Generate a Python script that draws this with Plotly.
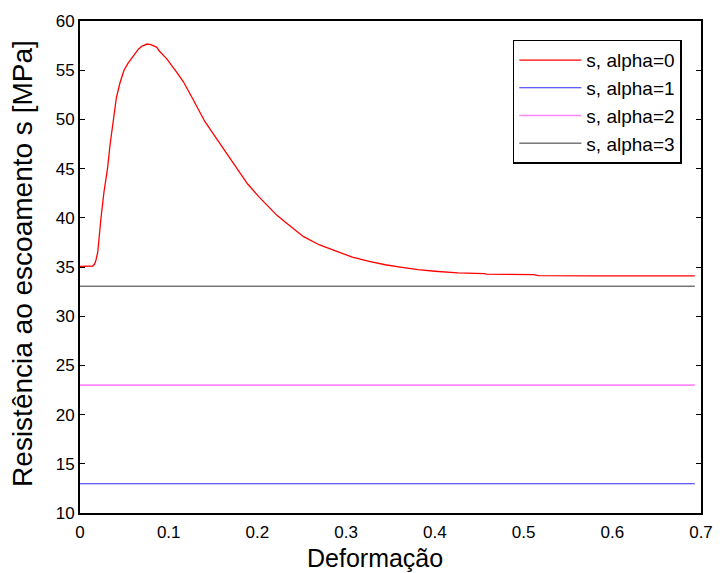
import plotly.graph_objects as go

# Red curve: s, alpha=0
strain = [0, 0.005, 0.010, 0.0144, 0.0165, 0.018, 0.020, 0.022, 0.0237, 0.027, 0.031,
          0.034, 0.0374, 0.041, 0.045, 0.0496, 0.054, 0.058, 0.062, 0.066, 0.070,
          0.0756, 0.080, 0.0867, 0.0889, 0.0978, 0.1089, 0.1167, 0.1278, 0.1407, 0.152,
          0.165, 0.178, 0.189, 0.202, 0.222, 0.233, 0.241, 0.252, 0.270, 0.289,
          0.307, 0.326, 0.344, 0.363, 0.381, 0.400, 0.419, 0.426, 0.456, 0.458,
          0.511, 0.517, 0.578, 0.693]
s_alpha0 = [35.07, 35.07, 35.08, 35.1, 35.3, 35.7, 36.5, 38.7, 40.0, 42.6, 45.0,
            47.5, 50.0, 52.2, 53.7, 55.0, 55.7, 56.2, 56.75, 57.16, 57.45,
            57.66, 57.6, 57.32, 57.0, 56.15, 54.8, 53.8, 51.97, 49.79, 48.3,
            46.6, 44.77, 43.43, 42.1, 40.25, 39.45, 38.9, 38.08, 37.24, 36.58,
            36.0, 35.57, 35.23, 34.97, 34.73, 34.57, 34.47, 34.4, 34.33, 34.27,
            34.22, 34.12, 34.1, 34.1]

# Constant series
strain_flat = [0, 0.693]
s_alpha1 = [12.97, 12.97]
s_alpha2 = [23.0, 23.0]
s_alpha3 = [33.05, 33.05]

names = ["s, alpha=0", "s, alpha=1", "s, alpha=2", "s, alpha=3"]
colors = ["#ff0000", "#2a2aff", "#ff88ff", "#333333"]
widths = [1.3, 1.1, 1.6, 1.0]

x_ticks = [0, 0.1, 0.2, 0.3, 0.4, 0.5, 0.6, 0.7]
x_labels = ["0", "0.1", "0.2", "0.3", "0.4", "0.5", "0.6", "0.7"]
y_ticks = [10, 15, 20, 25, 30, 35, 40, 45, 50, 55, 60]

FONT = "Liberation Sans, Arial, Helvetica, sans-serif"

fig = go.Figure()
series = [(strain, s_alpha0), (strain_flat, s_alpha1), (strain_flat, s_alpha2), (strain_flat, s_alpha3)]
for i, (xs, ys) in enumerate(series):
    fig.add_trace(go.Scatter(x=xs, y=ys, mode="lines", name=names[i],
                             line=dict(color=colors[i], width=widths[i]),
                             legendgroup=f"g{i}"))

tickfont = dict(family=FONT, size=17, color="black")

# main x axis: labels pushed down by transparent outside ticks
fig.update_layout(xaxis=dict(range=[0, 0.7], tickvals=x_ticks, ticktext=x_labels,
                             showline=True, linewidth=2, linecolor="black", mirror=True,
                             ticks="outside", ticklen=3, tickcolor="rgba(0,0,0,0)",
                             showgrid=False, zeroline=False, tickfont=tickfont),
                  # overlay axis drawing the inside ticks on bottom and top
                  xaxis2=dict(range=[0, 0.7], tickvals=x_ticks, overlaying="x",
                              side="bottom", showline=False, mirror="allticks",
                              ticks="inside", ticklen=5, tickwidth=1, tickcolor="black",
                              showticklabels=False, showgrid=False, zeroline=False),
                  yaxis=dict(range=[10, 60], tickvals=y_ticks,
                             showline=True, linewidth=2, linecolor="black", mirror="allticks",
                             ticks="inside", ticklen=5, tickwidth=1, tickcolor="black",
                             showgrid=False, zeroline=False, tickfont=tickfont))

fig.update_layout(
    width=725, height=573,
    margin=dict(l=80, r=15, t=15, b=60),
    paper_bgcolor="white", plot_bgcolor="white",
    showlegend=True,
    legend=dict(x=0.697, y=0.962, xanchor="left", yanchor="top",
                bgcolor="white", bordercolor="black", borderwidth=1.5,
                font=dict(family=FONT, size=19, color="black"),
                itemwidth=62, tracegroupgap=0),
    annotations=[
        dict(text="Deformação", xref="paper", yref="paper",
             x=(379 - 80) / 630, y=(513 - 559) / 498, xanchor="center", yanchor="middle",
             showarrow=False, font=dict(family=FONT, size=25, color="black")),
        dict(text="Resistência ao escoamento s [MPa]", xref="paper", yref="paper",
             x=(21 - 80) / 630, y=(513 - 260) / 498, xanchor="center", yanchor="middle",
             textangle=-90, showarrow=False, font=dict(family=FONT, size=28, color="black")),
    ],
)

fig.write_html("out.html")
